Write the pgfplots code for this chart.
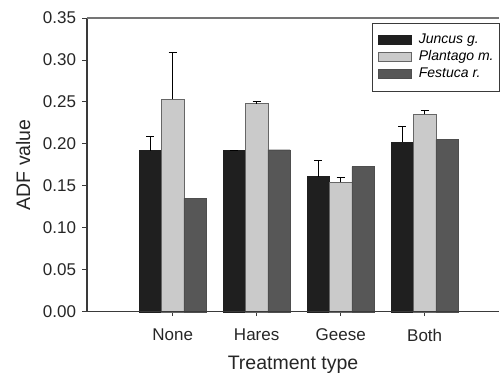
\documentclass[border=0pt]{standalone}
\usepackage{fontspec}
\setmainfont{Liberation Sans}
\usepackage{pgfplots}
\pgfplotsset{compat=1.18}
\definecolor{cJ}{HTML}{1F1F1F}
\definecolor{cP}{HTML}{CACACA}
\definecolor{cF}{HTML}{575757}
\definecolor{axc}{HTML}{3A3A3A}
\pgfplotsset{swatch/.style={legend image code/.code={\draw[##1,line width=0.6bp] (0bp,-4.3bp) rectangle (33bp,4.3bp);}}}
\begin{document}
\begin{tikzpicture}
\useasboundingbox (-87bp,-61.3bp) rectangle (415bp,311.7bp);
\begin{axis}[
  at={(0,0)}, anchor=south west,
  scale only axis, width=412bp, height=293.7bp,
  xmin=-0.02, xmax=4.885, ymin=0, ymax=0.35,
  ybar=0pt, bar width=22.3bp,
  xtick={1,2,3,4}, xticklabels={None,Hares,Geese,Both},
  ytick={0,0.05,...,0.35},
  yticklabel style={xshift=-3bp, /pgf/number format/.cd,fixed,fixed zerofill,precision=2},
  /pgf/number format/assume math mode=true,
  tick label style={font=\fontsize{17bp}{20bp}\selectfont, text=black!85},
  xticklabel style={yshift=-9bp},
  tick align=outside, xtick pos=left, ytick pos=left,
  major tick length=4.5bp,
  tick style={axc, line width=0.9bp},
  axis line style={draw=none},
  xlabel={Treatment type}, ylabel={ADF value},
  xlabel style={font=\fontsize{19.5bp}{23bp}\selectfont, text=black!85, at={(axis description cs:0.5,0)}, anchor=north, inner sep=0pt, yshift=-44.3bp},
  ylabel style={font=\fontsize{19.5bp}{23bp}\selectfont, text=black!85, at={(axis description cs:-0.155,0.5)}, anchor=center, inner sep=0pt},
  legend style={at={(1.0024,0.984)}, anchor=north east, draw=axc, line width=0.8bp,
    inner xsep=6bp, inner ysep=8.5bp, column sep=7bp,
    font=\fontsize{14bp}{16bp}\selectfont\itshape,
    nodes={inner sep=0pt, text height=12.4bp, text depth=4.6bp}},
  legend cell align=left,
  error bars/error bar style={black, line width=1.1bp},
  error bars/error mark options={rotate=90, mark size=4bp, black, line width=1.1bp},
  clip=false,
]
\addplot[fill=cJ, draw=cJ, swatch, error bars/.cd, y dir=plus, y explicit]
  coordinates {(1,0.192) +- (0,0.017) (2,0.192) +- (0,0.0) (3,0.161) +- (0,0.019) (4,0.202) +- (0,0.019)};
\addplot[fill=cP, draw=black!60, swatch, error bars/.cd, y dir=plus, y explicit]
  coordinates {(1,0.253) +- (0,0.056) (2,0.248) +- (0,0.003) (3,0.154) +- (0,0.006) (4,0.235) +- (0,0.005)};
\addplot[fill=cF, draw=cF!90!black, swatch]
  coordinates {(1,0.135) (2,0.193) (3,0.173) (4,0.205)};
\legend{Juncus g., Plantago m., Festuca r.}
\draw[axc, line width=1.1bp] (rel axis cs:0,1) -- (rel axis cs:0,0) -- (rel axis cs:1,0);
\draw[axc!70, line width=1.1bp] (rel axis cs:0,1) -- (rel axis cs:1,1);
\end{axis}
\end{tikzpicture}
\end{document}
